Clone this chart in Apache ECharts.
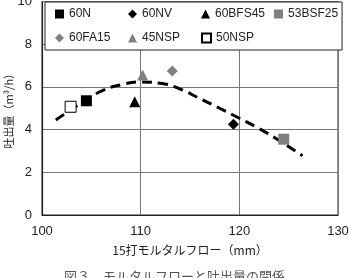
<!DOCTYPE html>
<html><head><meta charset="utf-8">
<script src="https://cdn.jsdelivr.net/npm/echarts@6/dist/echarts.min.js"></script>
<style>html,body{margin:0;padding:0;background:#fff}#c{width:349px;height:278px}</style>
</head><body><div id="c"></div>
<script>
var seriesNames = ['60N','60NV','60BFS45','53BSF25','60FA15','45NSP','50NSP'];
var seriesX = [104.5, 119.4, 109.4, 124.5, 113.2, 110.2, 102.9];
var seriesY = [5.35, 4.25, 5.3, 3.55, 6.74, 6.56, 5.07];
var trendX = [101.4, 104, 106, 108, 110, 112, 114, 116, 118, 120, 122, 124, 126.4];
var trendY = [4.45, 5.25, 5.8, 6.1, 6.23, 6.17, 5.9, 5.45, 5.0, 4.53, 4.05, 3.5, 2.78];
var xTicks = [100, 110, 120, 130];
var yTicks = [0, 2, 4, 6, 8, 10];

var symbols = ['rect','diamond','triangle','rect','diamond','triangle','rect'];
var fills = ['#000','#000','#000','#808080','#808080','#808080','#fff'];
var numFont = '"Liberation Sans Narrow","Liberation Sans",sans-serif';
var jpFont = '"Noto Sans CJK JP",sans-serif';

var series = seriesNames.map(function(n,i){
  return {
    name: n, type: 'scatter', z: 5,
    symbol: symbols[i], symbolSize: 11,
    itemStyle: {color: fills[i], borderColor: i===6 ? '#000' : fills[i], borderWidth: i===6 ? 1 : 0, opacity: 1},
    data: [[seriesX[i], seriesY[i]]]
  };
});
series.unshift({
  name: 'trend', type: 'line', smooth: true, showSymbol: false, symbol: 'none', z: 3,
  lineStyle: {color: '#000', width: 3, type: [10, 6]},
  data: trendX.map(function(x,i){return [x, trendY[i]];})
});

var chart = echarts.init(document.getElementById('c'), null, {renderer:'canvas'});
chart.setOption({
  animation: false,
  grid: {left: 42, right: 11, top: 1.5, bottom: 63, show: true, borderColor: '#222', borderWidth: 1, containLabel: false, outerBoundsMode: 'none'},
  legend: {
    data: seriesNames, left: 45, top: 2, width: 294,
    padding: [4.5, 4, 4.5, 10], itemGap: 9, itemWidth: 9, itemHeight: 9,
    backgroundColor: '#fff', borderColor: '#222', borderWidth: 1, borderRadius: 0,
    textStyle: {fontFamily: numFont, fontSize: 12, color: '#222', width: 50, lineHeight: 15},
    z: 10
  },
  xAxis: {
    type: 'value', min: xTicks[0], max: xTicks[xTicks.length-1], interval: 10,
    name: '15打モルタルフロー（mm）', nameLocation: 'middle', nameGap: 29, nameMoveOverlap: false,
    nameTextStyle: {fontFamily: jpFont, fontSize: 12, color: '#222'},
    axisLine: {show: true, lineStyle: {color: '#222', width: 1.2}},
    axisTick: {show: false},
    axisLabel: {fontFamily: numFont, fontSize: 13, color: '#222', margin: 10},
    splitLine: {show: true, lineStyle: {color: '#777', width: 1}}
  },
  yAxis: {
    type: 'value', min: yTicks[0], max: yTicks[yTicks.length-1], interval: 2,
    name: '吐出量（m³/h）', nameLocation: 'middle', nameGap: 28, nameRotate: 90, nameMoveOverlap: false,
    nameTextStyle: {fontFamily: jpFont, fontSize: 11, color: '#222'},
    axisLine: {show: true, lineStyle: {color: '#222', width: 1.2}},
    axisTick: {show: false},
    axisLabel: {fontFamily: numFont, fontSize: 13, color: '#222', margin: 10},
    splitLine: {show: true, lineStyle: {color: '#777', width: 1}}
  },
  graphic: [{
    type: 'text', left: 'center', top: 270,
    style: {text: '図３　モルタルフローと吐出量の関係', font: '13px "Noto Sans CJK JP",serif', fill: '#555'}
  }],
  series: series
});
</script></body></html>
